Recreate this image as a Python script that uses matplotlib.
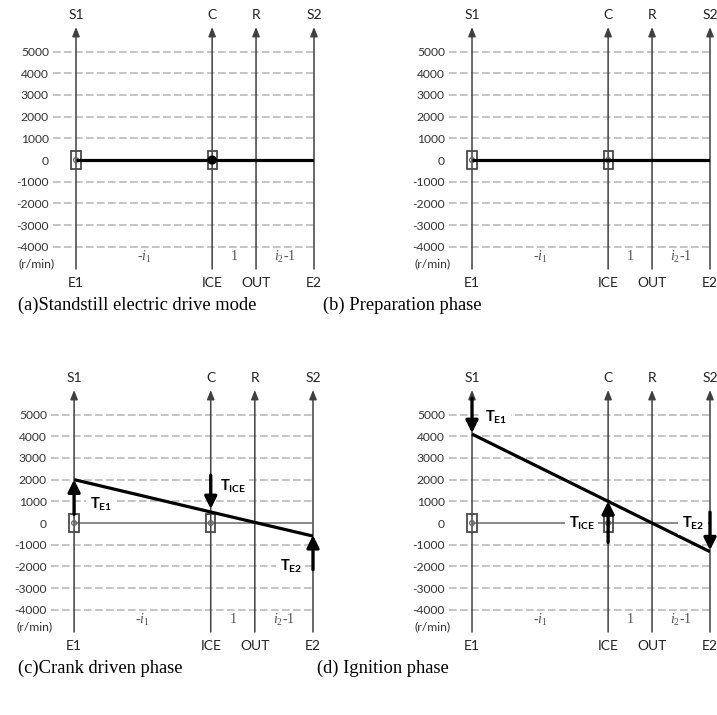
import matplotlib
matplotlib.use("Agg")
import matplotlib.pyplot as plt
from matplotlib.patches import Rectangle, Ellipse

plt.rcParams['mathtext.fontset'] = 'custom'
plt.rcParams['mathtext.rm'] = 'Liberation Serif'
plt.rcParams['mathtext.it'] = 'Liberation Serif:italic'
plt.rcParams['mathtext.bf'] = 'Lato:bold'

# ---------------- data ----------------
i1 = 3.1
i2 = 2.32
bottom_labels = ["E1", "ICE", "OUT", "E2"]
top_labels = ["S1", "C", "R", "S2"]
node_x = [-i1, 0.0, 1.0, i2]
gap_labels = [r"-$i_{1}$", "1", r"$i_{2}$-1"]
yticks = [5000, 4000, 3000, 2000, 1000, 0, -1000, -2000, -3000, -4000]

speed_a = [0, 0, 0, 0]
speed_b = [0, 0, 0, 0]
speed_c = [2000, 510, 30, -600]
speed_d = [4100, 1000, 0, -1320]

captions = ["(a)Standstill electric drive mode", "(b) Preparation phase",
            "(c)Crank driven phase", "(d) Ignition phase"]

# torque arrows: (node index, start speed, end speed, label)
torques_c = [(0, 400, 2000, r"$\mathbf{T}_{\mathbf{E1}}$"),
             (1, 2200, 650, r"$\mathbf{T}_{\mathbf{ICE}}$"),
             (3, -2150, -560, r"$\mathbf{T}_{\mathbf{E2}}$")]
torques_d = [(0, 5750, 4150, r"$\mathbf{T}_{\mathbf{E1}}$"),
             (1, -900, 1000, r"$\mathbf{T}_{\mathbf{ICE}}$"),
             (3, 500, -1250, r"$\mathbf{T}_{\mathbf{E2}}$")]

# torque label placement (x, y, ha)
tlabel_pos_c = [(-2.75, 850, 'left'), (0.2, 1700, 'left'), (2.07, -2000, 'right')]
tlabel_pos_d = [(-2.80, 4880, 'left'), (-0.30, 0, 'right'), (1.68, 0, 'left')]

W, H = 717, 715
fig = plt.figure(figsize=(W / 100, H / 100), dpi=100)

rects_px = [(53, 27, 314, 269), (449, 27, 710, 269),
            (51, 390, 313, 632), (449, 390, 710, 632)]
caption_px = [(18, 305), (323, 305), (18, 668), (317, 668)]

XL = (-i1 - 23 / 43.9, i2)
YL = (-5020, 6130)
SANS = 'Lato'
AXC = '#404040'


def make_axes(r):
    l, t, rr, b = r
    return fig.add_axes([l / W, 1 - b / H, (rr - l) / W, (b - t) / H])


def draw_panel(ax, speeds, kind, torques=None, tpos=None):
    ax.set_xlim(*XL)
    ax.set_ylim(*YL)
    for s in ax.spines.values():
        s.set_visible(False)
    ax.set_xticks([])
    ax.set_yticks(yticks)
    ax.set_yticklabels([str(v) for v in yticks], fontfamily=SANS)
    ax.tick_params(axis='y', length=0, pad=3, labelsize=8.7, labelcolor='#333333')
    ax.patch.set_alpha(0)

    # dashed grid
    gv = [v for v in yticks if v != 0]
    ax.hlines(gv, XL[0], i2, colors='#b4b4b4', linewidth=1.1,
              linestyles=(0, (5, 2.2)), zorder=1)

    # vertical lever axes with arrows
    for x, tl, bl in zip(node_x, top_labels, bottom_labels):
        ax.annotate('', xy=(x, YL[1]), xytext=(x, YL[0]),
                    arrowprops=dict(arrowstyle='-|>,head_length=0.55,head_width=0.22',
                                    color=AXC, lw=1.1, shrinkA=0, shrinkB=0),
                    annotation_clip=False, zorder=2)
        ax.text(x, 6700, tl, ha='center', va='center', fontsize=10,
                fontfamily=SANS, color='#222222', clip_on=False)
        ax.text(x, -5650, bl, ha='center', va='center', fontsize=10,
                fontfamily=SANS, color='#222222', clip_on=False)

    # gap labels
    for k, g in enumerate(gap_labels):
        xm = (node_x[k] + node_x[k + 1]) / 2
        ax.text(xm, -4460, g, ha='center', va='center', fontsize=10,
                fontfamily='Liberation Serif', color='#555555', clip_on=False)
    ax.text(XL[0] + 0.03, -4800, "(r/min)", ha='right', va='center', fontsize=8.7,
            fontfamily=SANS, color='#333333', clip_on=False)

    # zero line
    if kind in ('c', 'd'):
        ax.plot([node_x[0], node_x[-1]], [0, 0], color='#6a6a6a', lw=1.1, zorder=2)

    # locked nodes squares + circles
    for idx in (0, 1):
        x = node_x[idx]
        ax.add_patch(Rectangle((x - 0.105, -400), 0.21, 800, fill=False,
                               ec='#4a4a4a', lw=1.3, zorder=4))
        if kind == 'a' and idx == 1:
            ax.add_patch(Ellipse((x, 0), 0.18, 360, fc='black', ec='black', zorder=6))
        else:
            ax.add_patch(Ellipse((x, 0), 0.11, 220, fill=False, ec='#666666',
                                 lw=0.9, zorder=3))

    # speed line
    ax.plot(node_x, speeds, color='black', lw=2.3, zorder=5, solid_capstyle='butt')

    # torque arrows
    if torques:
        for (idx, y0, y1, lab), (lx, ly, ha) in zip(torques, tpos):
            ax.annotate('', xy=(node_x[idx], y1), xytext=(node_x[idx], y0),
                        arrowprops=dict(arrowstyle='-|>,head_length=0.6,head_width=0.3',
                                        color='black', lw=2.4, shrinkA=0, shrinkB=0,
                                        mutation_scale=12),
                        annotation_clip=False, zorder=7)
            ax.text(lx, ly, lab, ha=ha, va='center', fontsize=10.5, color='black',
                    bbox=dict(fc='white', ec='none', pad=2.5), zorder=6)


axs = [make_axes(r) for r in rects_px]
draw_panel(axs[0], speed_a, 'a')
draw_panel(axs[1], speed_b, 'b')
draw_panel(axs[2], speed_c, 'c', torques_c, tlabel_pos_c)
draw_panel(axs[3], speed_d, 'd', torques_d, tlabel_pos_d)

for (cx, cy), cap in zip(caption_px, captions):
    fig.text(cx / W, 1 - cy / H, cap, ha='left', va='center', fontsize=13.3,
             fontfamily='Liberation Serif', color='black')

fig.savefig("out.png", dpi=100)
